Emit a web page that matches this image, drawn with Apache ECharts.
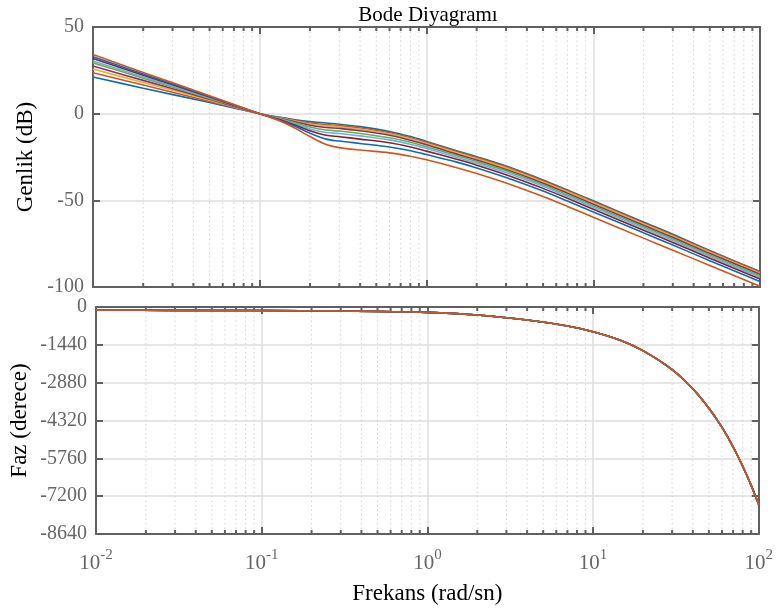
<!DOCTYPE html>
<html><head><meta charset="utf-8">
<script src="https://cdn.jsdelivr.net/npm/echarts/dist/echarts.min.js"></script>
<style>html,body{margin:0;padding:0;background:#fff}#c{width:776px;height:610px}</style>
</head><body><div id="c"></div>
<script>
// ---- data ----
const freq = [0.01, 0.02, 0.05, 0.1, 0.13, 0.16, 0.2, 0.25, 0.3, 0.4, 0.6, 0.8, 1, 1.5, 2, 3, 5, 7, 10, 20, 30, 50, 100];
const mag1 = [21.1, 14.7, 6.4, 0, -2.0, -3.4, -4.6, -5.4, -6.1, -7.5, -10.3, -13.2, -16.0, -21.2, -24.8, -30.2, -38.2, -44.0, -50.3, -62.5, -69.6, -79.0, -91.0];
const mag2 = [23.6, 16.5, 7.1, 0, -2.2, -3.8, -5.4, -6.3, -6.9, -8.3, -11.0, -13.9, -16.6, -21.7, -25.3, -30.7, -38.7, -44.5, -50.8, -63.0, -70.1, -79.4, -91.4];
const mag3 = [25.8, 18.0, 7.8, 0, -2.3, -4.1, -6.0, -7.1, -7.6, -9.0, -11.7, -14.5, -17.2, -22.4, -26.0, -31.4, -39.4, -45.1, -51.4, -63.6, -70.7, -80.0, -92.0];
const mag4 = [27.5, 19.2, 8.3, 0, -2.5, -4.5, -6.7, -8.0, -8.5, -9.9, -12.5, -15.3, -17.9, -23.2, -26.7, -32.2, -40.1, -45.9, -52.2, -64.4, -71.4, -80.7, -92.7];
const mag5 = [29.3, 20.5, 8.8, 0, -2.7, -5.1, -7.7, -9.4, -10.0, -11.4, -13.9, -16.5, -19.1, -24.0, -27.6, -33.0, -41.0, -46.8, -53.1, -65.2, -72.3, -81.5, -93.5];
const mag6 = [30.4, 21.2, 9.2, 0, -3.0, -5.7, -8.8, -10.9, -11.4, -12.8, -15.1, -17.6, -20.1, -25.0, -28.6, -34.0, -41.9, -47.7, -54.0, -66.1, -73.2, -82.4, -94.4];
const mag7 = [31.8, 22.2, 9.6, 0, -3.2, -6.3, -9.9, -12.5, -13.3, -14.7, -16.8, -19.2, -21.6, -26.2, -29.7, -35.2, -43.1, -48.8, -55.1, -67.2, -74.3, -83.4, -95.4];
const mag8 = [32.8, 22.9, 9.9, 0, -3.6, -7.0, -11.3, -14.7, -15.8, -17.2, -19.2, -21.4, -23.6, -27.8, -31.3, -36.8, -44.6, -50.4, -56.7, -68.7, -75.8, -84.8, -96.8];
const mag9 = [34.1, 23.8, 10.3, 0, -4.0, -8.0, -13.2, -17.8, -19.6, -21.0, -22.6, -24.6, -26.6, -31.0, -34.5, -40.0, -47.8, -53.5, -59.8, -71.8, -78.8, -87.6, -99.6];
const magSeries = [mag1, mag2, mag3, mag4, mag5, mag6, mag7, mag8, mag9];

const phaseFreq = [0.01, 0.03, 0.1, 0.3, 1, 2, 4, 7, 10, 15, 20, 30, 40, 50, 60, 70, 80, 90, 100];
const phaseDeg = [-125, -128, -135, -150, -205, -305, -495, -720, -940, -1290, -1660, -2380, -3110, -3850, -4580, -5320, -6060, -6790, -7520];

const minorFreq = [0.02,0.03,0.04,0.05,0.06,0.07,0.08,0.09, 0.2,0.3,0.4,0.5,0.6,0.7,0.8,0.9, 2,3,4,5,6,7,8,9, 20,30,40,50,60,70,80,90];
const magRange = [-100, 50];
const phaseRange = [-8640, 0];

const colors = ['#0072BD','#D95319','#EDB120','#7E2F8E','#77AC30','#4DBEEE','#A2142F','#0072BD','#D95319'];
const FONT = 'Liberation Serif';
const FRAME = '#606060';
const TICKC = '#666666';

function xAx(grid, pos, extra) {
  return Object.assign({
    gridIndex: grid, type: 'log', logBase: 10, min: 0.01, max: 100, splitNumber: 4, position: pos,
    axisLine: { show: true, onZero: false, lineStyle: { color: FRAME, width: 2 } },
    axisTick: { show: true, inside: true, length: 7, lineStyle: { color: FRAME, width: 2 } },
    axisLabel: { show: false },
    splitLine: { show: false }
  }, extra || {});
}
function yAx(grid, pos, range, interval, extra) {
  return Object.assign({
    gridIndex: grid, type: 'value', min: range[0], max: range[1], interval: interval, position: pos,
    axisLine: { show: true, onZero: false, lineStyle: { color: FRAME, width: 2 } },
    axisTick: { show: true, inside: true, length: 7, lineStyle: { color: FRAME, width: 2 } },
    axisLabel: { show: false },
    splitLine: { show: false }
  }, extra || {});
}
const gridSplit = { show: true, lineStyle: { color: '#dedede', width: 1.5 } };
const yLabel = { show: true, color: TICKC, fontFamily: FONT, fontSize: 20, margin: 9,
  formatter: function (v) { return String(v); } };
const yName = { color: '#000', fontFamily: FONT, fontSize: 23 };

function minorRender(range) {
  return function (params, api) {
    const x = api.value(0);
    const top = api.coord([x, range[1]]);
    const bot = api.coord([x, range[0]]);
    return {
      type: 'group',
      children: [
        { type: 'line', shape: { x1: top[0], y1: top[1], x2: bot[0], y2: bot[1] },
          style: { stroke: '#d2d2d2', lineWidth: 1, lineDash: [1.5, 3] } },
        { type: 'line', shape: { x1: bot[0], y1: bot[1], x2: bot[0], y2: bot[1] - 4 },
          style: { stroke: FRAME, lineWidth: 2 } },
        { type: 'line', shape: { x1: top[0], y1: top[1], x2: top[0], y2: top[1] + 4 },
          style: { stroke: FRAME, lineWidth: 2 } }
      ]
    };
  };
}

const series = [];
series.push({ type: 'custom', xAxisIndex: 0, yAxisIndex: 0, z: 1, silent: true,
  renderItem: minorRender(magRange), data: minorFreq.map(f => [f, 0]), encode: { x: 0, y: 1 } });
series.push({ type: 'custom', xAxisIndex: 2, yAxisIndex: 2, z: 1, silent: true,
  renderItem: minorRender(phaseRange), data: minorFreq.map(f => [f, -100]), encode: { x: 0, y: 1 } });
magSeries.forEach((m, k) => {
  series.push({ type: 'line', xAxisIndex: 0, yAxisIndex: 0, z: 3, symbol: 'none', smooth: 0.3,
    lineStyle: { color: colors[k], width: 1.6 }, data: freq.map((f, i) => [f, m[i]]) });
});
colors.forEach((c, k) => {
  series.push({ type: 'line', xAxisIndex: 2, yAxisIndex: 2, z: 3, symbol: 'none', smooth: 0.3,
    lineStyle: { color: c, width: 1.6 }, data: phaseFreq.map((f, i) => [f, phaseDeg[i]]) });
});

const option = {
  animation: false,
  backgroundColor: '#fff',
  title: { text: 'Bode Diyagramı', left: 423, textAlign: 'center', top: 0,
    textStyle: { color: '#000', fontFamily: FONT, fontSize: 21, fontWeight: 'normal' } },
  grid: [
    { left: 93, right: 16, top: 27, height: 260 },
    { left: 93, right: 16, top: 307, height: 227 }
  ],
  xAxis: [
    xAx(0, 'bottom', { splitLine: gridSplit }),
    xAx(0, 'top'),
    xAx(1, 'bottom', { splitLine: gridSplit,
      name: 'Frekans (rad/sn)', nameLocation: 'middle', nameGap: 48, nameMoveOverlap: false,
      nameTextStyle: { color: '#000', fontFamily: FONT, fontSize: 23 },
      axisLabel: { show: true, margin: 16,
        formatter: function (v) { return '{b|10}{s|' + Math.round(Math.log10(v)) + '}'; },
        rich: {
          b: { color: TICKC, fontFamily: FONT, fontSize: 21, lineHeight: 24, verticalAlign: 'bottom' },
          s: { color: TICKC, fontFamily: FONT, fontSize: 15, lineHeight: 16, verticalAlign: 'bottom', padding: [0, 0, 11, 0] }
        } } }),
    xAx(1, 'top')
  ],
  yAxis: [
    yAx(0, 'left', magRange, 50, { axisLabel: yLabel, splitLine: gridSplit,
      name: 'Genlik (dB)', nameLocation: 'middle', nameGap: 56, nameMoveOverlap: false, nameTextStyle: yName }),
    yAx(0, 'right', magRange, 50),
    yAx(1, 'left', phaseRange, 1440, { axisLabel: yLabel, splitLine: gridSplit,
      name: 'Faz (derece)', nameLocation: 'middle', nameGap: 65, nameMoveOverlap: false, nameTextStyle: yName }),
    yAx(1, 'right', phaseRange, 1440)
  ],
  series: series
};
const chart = echarts.init(document.getElementById('c'), null, { renderer: 'canvas' });
chart.setOption(option);
</script>
</body></html>
